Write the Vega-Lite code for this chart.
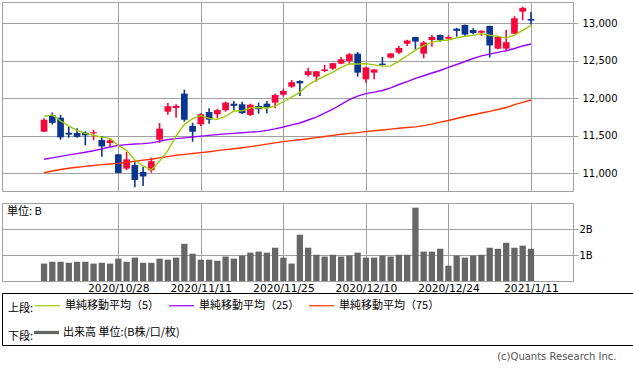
{
  "$schema": "https://vega.github.io/schema/vega-lite/v6.json",
  "padding": {"left": 1, "top": 1, "right": 0, "bottom": 0},
  "background": "white",
  "config": {
    "font": "DejaVu Sans",
    "view": {"stroke": "#a0a0a0", "strokeWidth": 1},
    "axis": {"gridColor": "#a0a0a0", "gridOpacity": 1, "gridWidth": 1, "domain": false, "tickColor": "#a0a0a0", "labelColor": "#000000", "labelFont": "DejaVu Sans", "labelFontSize": 10},
    "legend": {"labelFont": "Noto Sans CJK JP", "titleFont": "Noto Sans CJK JP", "labelFontSize": 11, "titleFontSize": 11, "titleFontWeight": "normal", "labelColor": "#000000", "titleColor": "#000000", "titleBaseline": "line-top", "titleLineHeight": 16}
  },
  "datasets": {
    "px": [
      {"d":"2020/10/15","o":11555,"h":11735,"l":11550,"c":11714,"v":0.67,"ma5":11761,"ma25":11187,"ma75":11008},
      {"d":"2020/10/16","o":11773,"h":11810,"l":11650,"c":11672,"v":0.74,"ma5":11779,"ma25":11205,"ma75":11030},
      {"d":"2020/10/19","o":11741,"h":11780,"l":11448,"c":11479,"v":0.74,"ma5":11700,"ma25":11225,"ma75":11050},
      {"d":"2020/10/20","o":11540,"h":11617,"l":11475,"c":11516,"v":0.70,"ma5":11630,"ma25":11245,"ma75":11068},
      {"d":"2020/10/21","o":11537,"h":11600,"l":11475,"c":11485,"v":0.74,"ma5":11573,"ma25":11262,"ma75":11080},
      {"d":"2020/10/22","o":11542,"h":11560,"l":11373,"c":11506,"v":0.74,"ma5":11532,"ma25":11280,"ma75":11092},
      {"d":"2020/10/23","o":11533,"h":11580,"l":11440,"c":11548,"v":0.67,"ma5":11507,"ma25":11300,"ma75":11104},
      {"d":"2020/10/26","o":11444,"h":11497,"l":11221,"c":11358,"v":0.70,"ma5":11483,"ma25":11325,"ma75":11115},
      {"d":"2020/10/27","o":11404,"h":11456,"l":11355,"c":11440,"v":0.67,"ma5":11466,"ma25":11350,"ma75":11124},
      {"d":"2020/10/28","o":11253,"h":11260,"l":11000,"c":11005,"v":0.86,"ma5":11370,"ma25":11373,"ma75":11133},
      {"d":"2020/10/29","o":11062,"h":11284,"l":11044,"c":11186,"v":0.74,"ma5":11306,"ma25":11382,"ma75":11147},
      {"d":"2020/10/30","o":11111,"h":11147,"l":10815,"c":10912,"v":0.90,"ma5":11178,"ma25":11390,"ma75":11161},
      {"d":"2020/11/2","o":11017,"h":11084,"l":10831,"c":10958,"v":0.70,"ma5":11098,"ma25":11395,"ma75":11175},
      {"d":"2020/11/3","o":11040,"h":11210,"l":11008,"c":11161,"v":0.70,"ma5":11044,"ma25":11405,"ma75":11188},
      {"d":"2020/11/4","o":11448,"h":11671,"l":11408,"c":11595,"v":0.86,"ma5":11162,"ma25":11425,"ma75":11205},
      {"d":"2020/11/5","o":11822,"h":11937,"l":11782,"c":11895,"v":0.82,"ma5":11303,"ma25":11450,"ma75":11222},
      {"d":"2020/11/6","o":11870,"h":11920,"l":11742,"c":11900,"v":0.90,"ma5":11499,"ma25":11462,"ma75":11240},
      {"d":"2020/11/9","o":12062,"h":12115,"l":11688,"c":11714,"v":1.43,"ma5":11650,"ma25":11472,"ma75":11252},
      {"d":"2020/11/10","o":11631,"h":11675,"l":11422,"c":11554,"v":1.05,"ma5":11729,"ma25":11484,"ma75":11264},
      {"d":"2020/11/11","o":11653,"h":11800,"l":11631,"c":11786,"v":0.82,"ma5":11768,"ma25":11495,"ma75":11275},
      {"d":"2020/11/12","o":11817,"h":11867,"l":11662,"c":11715,"v":0.82,"ma5":11732,"ma25":11505,"ma75":11288},
      {"d":"2020/11/13","o":11787,"h":11861,"l":11733,"c":11844,"v":0.78,"ma5":11719,"ma25":11515,"ma75":11302},
      {"d":"2020/11/16","o":11840,"h":11956,"l":11822,"c":11942,"v":0.94,"ma5":11761,"ma25":11525,"ma75":11315},
      {"d":"2020/11/17","o":11928,"h":11964,"l":11840,"c":11900,"v":0.86,"ma5":11830,"ma25":11533,"ma75":11328},
      {"d":"2020/11/18","o":11920,"h":11955,"l":11790,"c":11802,"v":0.98,"ma5":11833,"ma25":11541,"ma75":11341},
      {"d":"2020/11/19","o":11777,"h":11928,"l":11764,"c":11915,"v":1.09,"ma5":11872,"ma25":11549,"ma75":11355},
      {"d":"2020/11/20","o":11897,"h":11942,"l":11795,"c":11855,"v":1.13,"ma5":11877,"ma25":11556,"ma75":11372},
      {"d":"2020/11/23","o":11928,"h":11964,"l":11800,"c":11880,"v":1.09,"ma5":11868,"ma25":11572,"ma75":11389},
      {"d":"2020/11/24","o":11942,"h":12060,"l":11867,"c":12045,"v":1.28,"ma5":11896,"ma25":11593,"ma75":11405},
      {"d":"2020/11/25","o":12048,"h":12128,"l":12022,"c":12098,"v":0.90,"ma5":11954,"ma25":11617,"ma75":11422},
      {"d":"2020/11/27","o":12155,"h":12244,"l":12140,"c":12215,"v":0.67,"ma5":12015,"ma25":11645,"ma75":11435},
      {"d":"2020/11/30","o":12231,"h":12240,"l":12030,"c":12199,"v":1.78,"ma5":12083,"ma25":11671,"ma75":11448},
      {"d":"2020/12/1","o":12311,"h":12408,"l":12288,"c":12362,"v":1.28,"ma5":12178,"ma25":11711,"ma75":11461},
      {"d":"2020/12/2","o":12290,"h":12365,"l":12222,"c":12360,"v":1.01,"ma5":12241,"ma25":11748,"ma75":11475},
      {"d":"2020/12/3","o":12365,"h":12444,"l":12350,"c":12385,"v":0.94,"ma5":12297,"ma25":11803,"ma75":11490},
      {"d":"2020/12/4","o":12395,"h":12475,"l":12380,"c":12468,"v":1.01,"ma5":12349,"ma25":11854,"ma75":11505},
      {"d":"2020/12/7","o":12462,"h":12551,"l":12455,"c":12520,"v":0.94,"ma5":12413,"ma25":11918,"ma75":11520},
      {"d":"2020/12/8","o":12497,"h":12604,"l":12453,"c":12587,"v":0.98,"ma5":12459,"ma25":11983,"ma75":11532},
      {"d":"2020/12/9","o":12595,"h":12617,"l":12288,"c":12342,"v":1.09,"ma5":12457,"ma25":12030,"ma75":11543},
      {"d":"2020/12/10","o":12253,"h":12420,"l":12208,"c":12412,"v":0.90,"ma5":12462,"ma25":12063,"ma75":11555},
      {"d":"2020/12/11","o":12342,"h":12390,"l":12253,"c":12384,"v":0.90,"ma5":12445,"ma25":12082,"ma75":11567},
      {"d":"2020/12/14","o":12462,"h":12551,"l":12440,"c":12445,"v":0.98,"ma5":12429,"ma25":12104,"ma75":11578},
      {"d":"2020/12/15","o":12542,"h":12605,"l":12530,"c":12598,"v":0.94,"ma5":12432,"ma25":12140,"ma75":11589},
      {"d":"2020/12/16","o":12608,"h":12697,"l":12590,"c":12672,"v":1.01,"ma5":12495,"ma25":12184,"ma75":11600},
      {"d":"2020/12/17","o":12728,"h":12780,"l":12697,"c":12770,"v":1.01,"ma5":12567,"ma25":12223,"ma75":11610},
      {"d":"2020/12/18","o":12817,"h":12820,"l":12653,"c":12756,"v":2.82,"ma5":12643,"ma25":12265,"ma75":11619},
      {"d":"2020/12/21","o":12595,"h":12765,"l":12533,"c":12745,"v":1.13,"ma5":12703,"ma25":12301,"ma75":11636},
      {"d":"2020/12/22","o":12777,"h":12844,"l":12688,"c":12818,"v":1.13,"ma5":12746,"ma25":12337,"ma75":11656},
      {"d":"2020/12/23","o":12844,"h":12850,"l":12755,"c":12773,"v":1.24,"ma5":12769,"ma25":12371,"ma75":11682},
      {"d":"2020/12/24","o":12795,"h":12840,"l":12777,"c":12818,"v":0.59,"ma5":12777,"ma25":12412,"ma75":11704},
      {"d":"2020/12/28","o":12928,"h":12940,"l":12822,"c":12899,"v":0.98,"ma5":12805,"ma25":12451,"ma75":11730},
      {"d":"2020/12/29","o":12977,"h":12985,"l":12835,"c":12850,"v":0.90,"ma5":12827,"ma25":12491,"ma75":11757},
      {"d":"2020/12/30","o":12911,"h":12933,"l":12853,"c":12871,"v":0.98,"ma5":12839,"ma25":12531,"ma75":11781},
      {"d":"2020/12/31","o":12875,"h":12905,"l":12831,"c":12900,"v":1.01,"ma5":12862,"ma25":12565,"ma75":11804},
      {"d":"2021/1/4","o":12964,"h":12970,"l":12543,"c":12705,"v":1.28,"ma5":12841,"ma25":12589,"ma75":11826},
      {"d":"2021/1/5","o":12662,"h":12830,"l":12655,"c":12820,"v":1.24,"ma5":12825,"ma25":12613,"ma75":11851},
      {"d":"2021/1/6","o":12662,"h":12915,"l":12625,"c":12748,"v":1.47,"ma5":12803,"ma25":12635,"ma75":11877},
      {"d":"2021/1/7","o":12862,"h":13095,"l":12855,"c":13067,"v":1.28,"ma5":12843,"ma25":12664,"ma75":11915},
      {"d":"2021/1/8","o":13155,"h":13222,"l":13040,"c":13206,"v":1.36,"ma5":12905,"ma25":12698,"ma75":11945},
      {"d":"2021/1/11","o":13057,"h":13150,"l":12985,"c":13036,"v":1.24,"ma5":12973,"ma25":12724,"ma75":11977}
    ]
  },
  "spacing": 12,
  "bounds": "flush",
  "resolve": {"scale": {"color": "independent"}, "legend": {"color": "independent"}},
  "title": {"text": "(c)Quants Research Inc.", "orient": "bottom", "anchor": "end", "fontSize": 10, "fontWeight": "normal", "color": "#555555", "font": "DejaVu Sans", "offset": 6, "dx": -17},
  "vconcat": [
    {
      "width": 571,
      "height": 189,
      "data": {"name": "px"},
      "transform": [{"window": [{"op": "row_number", "as": "i"}]}],
      "encoding": {
        "x": {"field": "i", "type": "quantitative",
          "scale": {"domain": [-3.49, 64.49], "nice": false, "zero": false},
          "axis": {"values": [10, 20, 30, 40, 50, 60], "labels": false, "ticks": false, "grid": true, "title": null}}
      },
      "layer": [
        {
          "mark": {"type": "rule", "strokeWidth": 1.6},
          "encoding": {
            "y": {"field": "l", "type": "quantitative", "scale": {"domain": [10764, 13284], "nice": false, "zero": false},
              "axis": {"orient": "right", "values": [11000, 11500, 12000, 12500, 13000], "format": ",d", "grid": true, "tickSize": 5, "labelPadding": 4, "title": null}},
            "y2": {"field": "h"},
            "color": {"condition": {"test": "datum.c >= datum.o", "value": "#f5073c"}, "value": "#0a3591"}
          }
        },
        {
          "mark": {"type": "bar", "width": 6.7},
          "encoding": {
            "y": {"field": "o", "type": "quantitative"},
            "y2": {"field": "c"},
            "color": {"condition": {"test": "datum.c >= datum.o", "value": "#f5073c"}, "value": "#0a3591"}
          }
        },
        {
          "transform": [{"fold": ["ma75", "ma25", "ma5"], "as": ["series", "val"]}],
          "mark": {"type": "line", "strokeWidth": 1.4},
          "encoding": {
            "y": {"field": "val", "type": "quantitative"},
            "color": {"field": "series", "type": "nominal",
              "scale": {"domain": ["ma5", "ma25", "ma75"], "range": ["#99cc00", "#9900ff", "#ff3300"]},
              "legend": {"orient": "none", "legendX": 6, "legendY": 290, "direction": "horizontal", "columns": 3, "columnPadding": 6,
                "title": "上段:", "titleOrient": "left", "titlePadding": 0,
                "symbolType": "stroke", "symbolSize": 625, "symbolStrokeWidth": 1.2, "labelOffset": 4,
                "labelExpr": "{'ma5':'単純移動平均（5）','ma25':'単純移動平均（25）','ma75':'単純移動平均（75）'}[datum.label]"}}
          }
        }
      ]
    },
    {
      "width": 571,
      "height": 78,
      "data": {"name": "px"},
      "transform": [{"window": [{"op": "row_number", "as": "i"}]}],
      "title": {"text": "単位: B", "anchor": "start", "offset": -14, "dx": 5, "fontSize": 11, "fontWeight": "normal", "font": "Noto Sans CJK JP", "color": "#000000"},
      "mark": {"type": "bar", "width": 6.3},
      "encoding": {
        "x": {"field": "i", "type": "quantitative",
          "scale": {"domain": [-3.49, 64.49], "nice": false, "zero": false},
          "axis": {"values": [10, 20, 30, 40, 50, 60], "labelExpr": "{'10':'2020/10/28','20':'2020/11/11','30':'2020/11/25','40':'2020/12/10','50':'2020/12/24','60':'2021/1/11'}[datum.label]", "ticks": false, "labelPadding": 2, "labelFontSize": 10.7, "grid": true, "title": null}},
        "y": {"field": "v", "type": "quantitative", "scale": {"domain": [0, 3], "nice": false},
          "axis": {"orient": "right", "values": [1, 2], "labelExpr": "datum.value + 'B'", "tickSize": 5, "labelPadding": 1, "grid": true, "title": null}},
        "color": {"datum": "vol", "type": "nominal", "scale": {"domain": ["vol"], "range": ["#666666"]},
          "legend": {"orient": "none", "legendX": 6, "legendY": 117, "title": "下段:", "titleOrient": "left", "titlePadding": 0,
            "symbolType": "M-1,-0.13H1V0.13H-1Z", "symbolSize": 625, "symbolStrokeWidth": 0, "labelOffset": 4,
            "labelExpr": "'出来高 単位:(B株/口/枚)'"}}
      }
    },
    {
      "width": 631,
      "height": 52,
      "data": {"values": [{}]},
      "view": {"stroke": "#000000", "strokeWidth": 1},
      "mark": {"type": "text", "text": ""},
      "encoding": {}
    }
  ]
}
